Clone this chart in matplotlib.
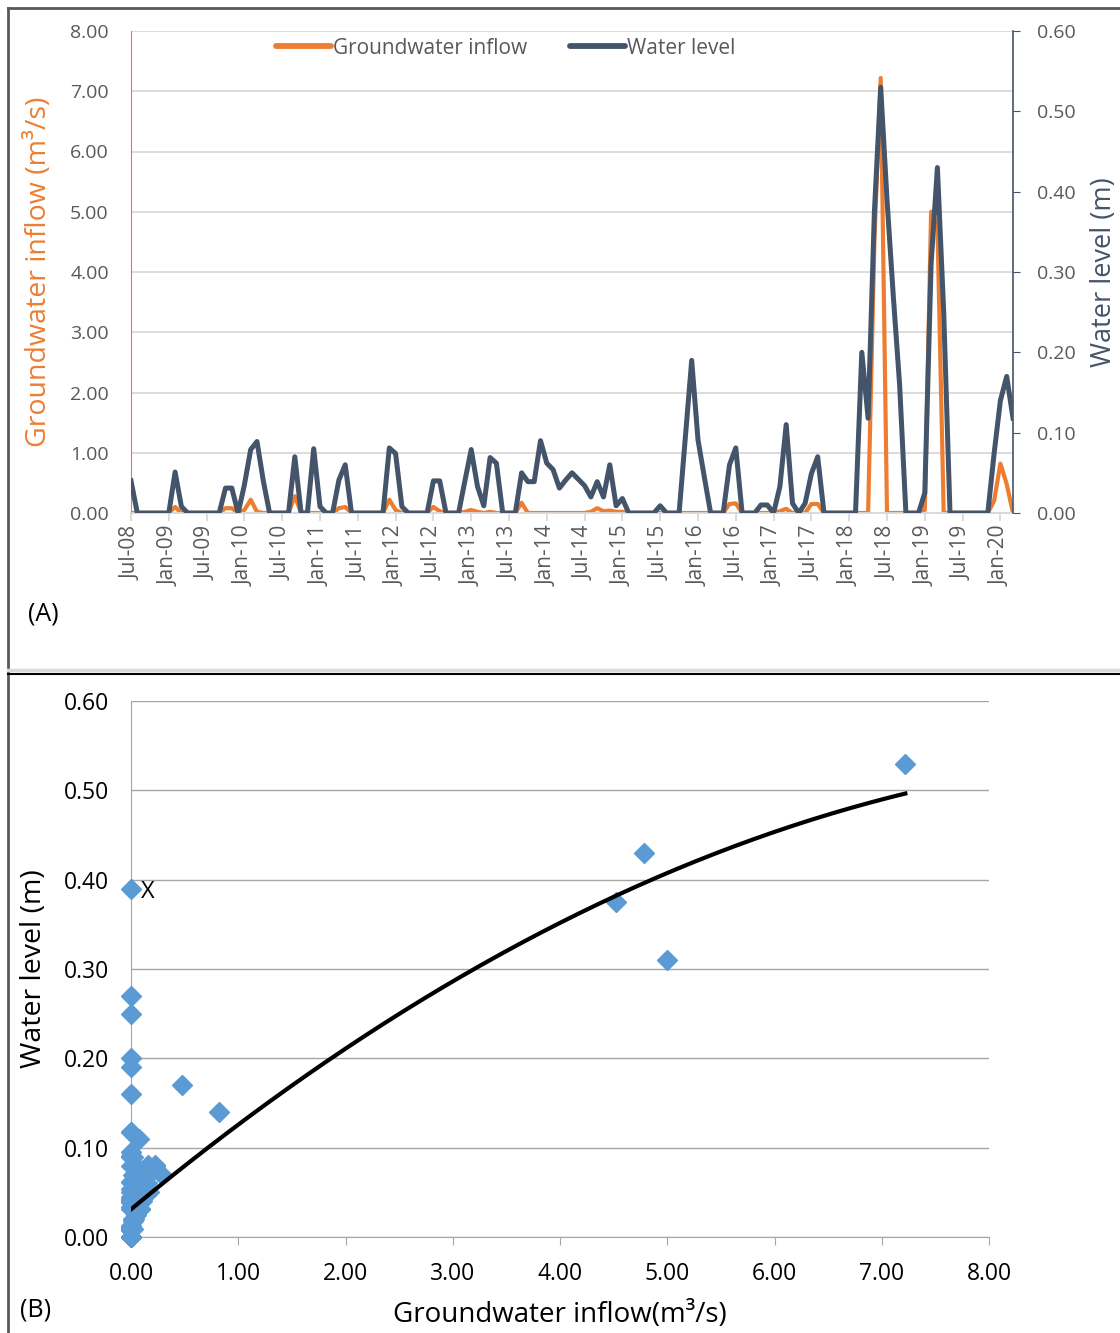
import numpy as np
import pandas as pd
import matplotlib
matplotlib.use('Agg')
import matplotlib.pyplot as plt
from matplotlib.lines import Line2D

plt.rcParams['font.family'] = ['Open Sans', 'DejaVu Sans']

# monthly series, Jul-08 .. Mar-20 (12 values per row)
water_level = [
    0.040, 0, 0, 0, 0, 0, 0, 0.051, 0.008, 0, 0, 0,
    0, 0, 0, 0.031, 0.031, 0, 0.035, 0.079, 0.089, 0.040, 0, 0,
    0, 0, 0.070, 0, 0, 0.080, 0.008, 0, 0, 0.041, 0.060, 0,
    0, 0, 0, 0, 0, 0.081, 0.074, 0.008, 0, 0, 0, 0,
    0.040, 0.040, 0, 0, 0, 0.040, 0.079, 0.033, 0.009, 0.069, 0.062, 0,
    0, 0, 0.050, 0.039, 0.039, 0.090, 0.062, 0.054, 0.031, 0.041, 0.050, 0.042,
    0.034, 0.020, 0.039, 0.020, 0.060, 0.009, 0.018, 0, 0, 0, 0, 0,
    0.009, 0, 0, 0, 0.095, 0.190, 0.091, 0.045, 0, 0, 0, 0.060,
    0.081, 0, 0, 0, 0.010, 0.010, 0, 0.033, 0.110, 0.012, 0, 0.012,
    0.049, 0.070, 0, 0, 0, 0, 0, 0, 0.200, 0.118, 0.375, 0.530,
    0.390, 0.270, 0.160, 0, 0, 0, 0.025, 0.310, 0.430, 0.250, 0, 0,
    0, 0, 0, 0, 0, 0.074, 0.140, 0.170, 0.118,
]
gw_inflow = [
    0, 0, 0, 0, 0, 0, 0, 0.10, 0, 0, 0, 0,
    0, 0, 0, 0.08, 0.08, 0, 0.05, 0.22, 0.02, 0, 0, 0,
    0, 0, 0.28, 0, 0, 0, 0, 0, 0, 0.08, 0.10, 0,
    0, 0, 0, 0, 0, 0.22, 0.05, 0, 0, 0, 0, 0,
    0.10, 0.03, 0, 0, 0, 0.02, 0.05, 0.02, 0, 0.02, 0, 0,
    0, 0, 0.17, 0, 0, 0, 0, 0, 0, 0, 0, 0,
    0, 0.02, 0.08, 0.03, 0.04, 0.02, 0.02, 0, 0, 0, 0, 0,
    0, 0, 0, 0, 0, 0, 0, 0, 0, 0, 0, 0.15,
    0.16, 0, 0, 0, 0, 0, 0, 0.03, 0.07, 0, 0, 0,
    0.15, 0.15, 0, 0, 0, 0, 0, 0, 0, 0, 4.52, 7.22,
    0, 0, 0, 0, 0, 0, 0.05, 5.00, 4.78, 0, 0, 0,
    0, 0, 0, 0, 0, 0.20, 0.82, 0.48, 0,
]
months = pd.date_range('2008-07-01', periods=len(water_level), freq='MS')
month_labels = [d.strftime('%b-%y') for d in months]

ORANGE = '#ED7D31'
SLATE = '#44546A'
BLUE = '#5B9BD5'
GRAY = '#595959'

W, H = 1120, 1333
fig = plt.figure(figsize=(W / 100, H / 100), dpi=100)

# ---------------- (A) time series ----------------
ax1 = fig.add_axes([131 / W, 1 - 513 / H, 882 / W, 482 / H])
ax2 = ax1.twinx()
x = np.arange(len(water_level))

l1, = ax1.plot(x, gw_inflow, color=ORANGE, lw=3, solid_joinstyle='round',
               label='Groundwater inflow')
l2, = ax2.plot(x, water_level, color=SLATE, lw=3.6, solid_joinstyle='round',
               label='Water level')

ax1.set_xlim(0, len(x) - 1)
ax1.set_ylim(0, 8)
ax2.set_ylim(0, 0.6)
ax1.set_yticks(np.arange(0, 9, 1))
ax1.set_yticklabels(['%.2f' % v for v in np.arange(0, 9, 1)])
ax2.set_yticks(np.arange(0, 0.61, 0.1))
ax2.set_yticklabels(['%.2f' % v for v in np.arange(0, 0.61, 0.1)])
ax1.set_xticks(x[::6])
ax1.set_xticklabels(month_labels[::6], rotation=90)

ax1.grid(axis='y', color='#D9D9D9', lw=1.3)
ax1.set_axisbelow(True)
for s in ['top', 'right']:
    ax1.spines[s].set_visible(False)
ax1.spines['left'].set_color(ORANGE)
ax1.spines['bottom'].set_color('#D9D9D9')
ax1.spines['bottom'].set_linewidth(1.3)
for s in ['top', 'left', 'bottom']:
    ax2.spines[s].set_visible(False)
ax2.spines['right'].set_color(SLATE)
ax2.spines['right'].set_linewidth(1.2)

ax1.tick_params(axis='y', length=0, labelsize=14, labelcolor=GRAY, pad=16)
ax1.tick_params(axis='x', length=6, color='#D9D9D9', width=1.3,
                labelsize=15, labelcolor=GRAY, pad=3)
ax2.tick_params(axis='y', length=5, color=SLATE, labelsize=14,
                labelcolor=GRAY, pad=12)

ax1.set_ylabel('Groundwater inflow (m³/s)', color=ORANGE, fontsize=20.5)
ax1.yaxis.set_label_coords(-0.088, 0.5)
ax2.set_ylabel('Water level (m)', color=SLATE, fontsize=19.5)
ax2.yaxis.set_label_coords(1.087, 0.5)

leg = ax1.legend([l1, l2], ['Groundwater inflow', 'Water level'],
                 loc='upper center', bbox_to_anchor=(0.425, 1.025), ncol=2,
                 frameon=False, fontsize=15, labelcolor=GRAY, handlelength=2.65,
                 handletextpad=0.1, columnspacing=2.05)
for ln in leg.get_lines():
    ln.set_linewidth(4.2)
    ln.set_solid_capstyle('round')

fig.text(28 / W, 1 - 614 / H, '(A)', fontsize=18, va='center', ha='left')

# ---------------- (B) scatter ----------------
ax3 = fig.add_axes([131 / W, 1 - 1237 / H, 858 / W, 536 / H])
ax3.plot(gw_inflow, water_level, 'D', color=BLUE, ms=10, mec=BLUE,
         clip_on=False, zorder=3)

coef = np.polyfit(gw_inflow, water_level, 2)
xs = np.linspace(min(gw_inflow), max(gw_inflow), 200)
ax3.plot(xs, np.polyval(coef, xs), color='black', lw=3, zorder=4)

ax3.set_xlim(0, 8)
ax3.set_ylim(0, 0.6)
ax3.set_xticks(np.arange(0, 9, 1))
ax3.set_xticklabels(['%.2f' % v for v in np.arange(0, 9, 1)])
ax3.set_yticks(np.arange(0, 0.61, 0.1))
ax3.set_yticklabels(['%.2f' % v for v in np.arange(0, 0.61, 0.1)])
ax3.grid(axis='y', color='#A6A6A6', lw=1)
ax3.set_axisbelow(True)
for s in ['top', 'right']:
    ax3.spines[s].set_visible(False)
for s in ['left', 'bottom']:
    ax3.spines[s].set_color('#A6A6A6')
ax3.tick_params(axis='y', length=0, labelsize=16.5, pad=16)
ax3.tick_params(axis='x', length=6, color='#A6A6A6', labelsize=16.5, pad=12)
ax3.set_xlabel('Groundwater inflow(m³/s)', fontsize=20, labelpad=11)
ax3.set_ylabel('Water level (m)', fontsize=20.5)
ax3.yaxis.set_label_coords(-0.097, 0.5)
ax3.text(0.09, 0.386, 'X', fontsize=17, va='center', ha='left')

fig.text(20 / W, 1 - 1310 / H, '(B)', fontsize=18, va='center', ha='left')

# panel frame lines
fig.add_artist(Line2D([8 / W, 8 / W], [0, 1 - 8 / H], color=GRAY, lw=2,
                      transform=fig.transFigure))
fig.add_artist(Line2D([8 / W, 1], [1 - 8 / H, 1 - 8 / H], color=GRAY, lw=2,
                      transform=fig.transFigure))
fig.add_artist(Line2D([8 / W, 1], [1 - 670 / H, 1 - 670 / H], color='#D9D9D9',
                      lw=2.5, transform=fig.transFigure))
fig.add_artist(Line2D([8 / W, 1], [1 - 674 / H, 1 - 674 / H], color='black',
                      lw=1.5, transform=fig.transFigure))

fig.savefig('out.png', dpi=100)
